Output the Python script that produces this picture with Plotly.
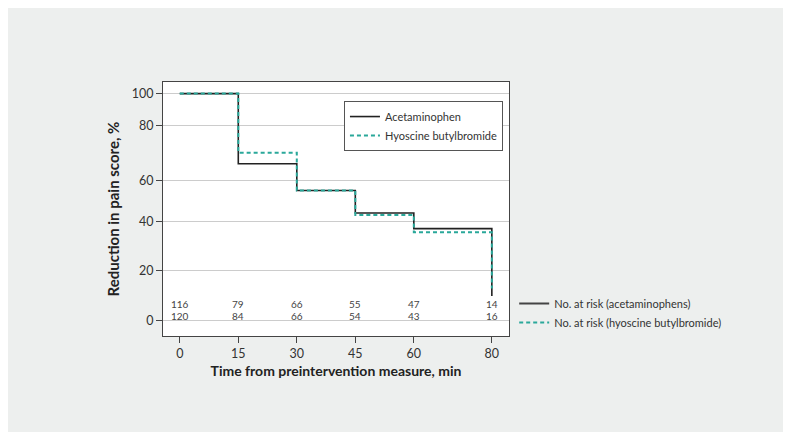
"""
Reduction in pain score over time: acetaminophen vs hyoscine butylbromide.
Step (Kaplan-Meier style) chart with numbers at risk.
"""
import numpy as np
import plotly.graph_objects as go

# time points (min) and step levels (% reduction in pain score)
TIME = [0, 15, 30, 45, 60, 80]
ACETAMINOPHEN = [100, 66, 55, 44, 37, 10]
HYOSCINE = [100, 70, 55, 43, 35.5, 13]

# numbers at risk
RISK_ACET = [116, 79, 66, 55, 47, 14]
RISK_HYOS = [120, 84, 66, 54, 43, 16]

# the source figure spaces its y gridlines unevenly
Y_TICKS = [0, 20, 40, 60, 80, 100]
Y_TICK_POS = [0, 22.0, 43.9, 61.9, 86.1, 100]

BLACK = "#222222"
TEAL = "#2aa89a"
FONT = "Lato, 'Source Sans Pro', sans-serif"


def to_axis(v):
    """Map a value onto the unevenly spaced y axis of the original figure."""
    return np.interp(v, Y_TICKS, Y_TICK_POS)


fig = go.Figure()

fig.add_trace(go.Scatter(
    x=TIME, y=to_axis(ACETAMINOPHEN),
    mode="lines", line_shape="hv", name="Acetaminophen",
    line=dict(color=BLACK, width=1.6),
))
fig.add_trace(go.Scatter(
    x=TIME, y=to_axis(HYOSCINE),
    mode="lines", line_shape="hv", name="Hyoscine butylbromide",
    line=dict(color=TEAL, width=2, dash="4px,3px"),
))

# legend-only entries for the numbers-at-risk rows
fig.add_trace(go.Scatter(
    x=[None], y=[None], mode="lines", name="No. at risk (acetaminophens)",
    line=dict(color="#444444", width=2), legend="legend2",
))
fig.add_trace(go.Scatter(
    x=[None], y=[None], mode="lines", name="No. at risk (hyoscine butylbromide)",
    line=dict(color=TEAL, width=2, dash="4px,3px"), legend="legend2",
))

# numbers at risk, two rows near the bottom of the plot
for t, a, h in zip(TIME, RISK_ACET, RISK_HYOS):
    fig.add_annotation(x=t, y=0.126, xref="x", yref="paper", text=str(a),
                       yanchor="middle", showarrow=False,
                       font=dict(size=10, color="#444444"))
    fig.add_annotation(x=t, y=0.079, xref="x", yref="paper", text=str(h),
                       yanchor="middle", showarrow=False,
                       font=dict(size=10, color="#444444"))

fig.update_layout(
    width=776, height=424,
    margin=dict(l=155, r=275, t=74, b=96),
    paper_bgcolor="#edefee", plot_bgcolor="white",
    font=dict(family=FONT, size=12, color="#333333"),
    legend=dict(
        x=0.523, y=0.925, xanchor="left", yanchor="top",
        bgcolor="white", bordercolor="#555555", borderwidth=1,
        font=dict(size=11, color="#333333"),
        tracegroupgap=0, itemwidth=30,
    ),
    legend2=dict(
        x=1.015, y=0.185, xanchor="left", yanchor="top",
        bgcolor="rgba(0,0,0,0)", borderwidth=0,
        font=dict(size=11, color="#333333"),
        itemwidth=30,
    ),
)

fig.update_xaxes(
    range=[-4.3, 84.4], tickvals=TIME, ticktext=[str(t) for t in TIME],
    showgrid=False, zeroline=False,
    showline=True, mirror=True, linecolor="#444444", linewidth=1,
    ticks="outside", ticklen=6, tickcolor="#444444",
    tickfont=dict(size=12.5, color="#333333"),
    title=dict(text="<b>Time from preintervention measure, min</b>",
               font=dict(size=14, color="#222222"), standoff=6),
)
fig.update_yaxes(
    range=[-6.6, 105.1], tickvals=Y_TICK_POS, ticktext=[str(v) for v in Y_TICKS],
    showgrid=True, gridcolor="#cccccc", gridwidth=1, zeroline=False,
    showline=True, mirror=True, linecolor="#444444", linewidth=1,
    ticks="outside", ticklen=6, tickcolor="#444444",
    tickfont=dict(size=12.5, color="#333333"),
    title=dict(text="<b>Reduction in pain score, %</b>",
               font=dict(size=15, color="#222222"), standoff=8),
)

fig.write_html("out.html")
